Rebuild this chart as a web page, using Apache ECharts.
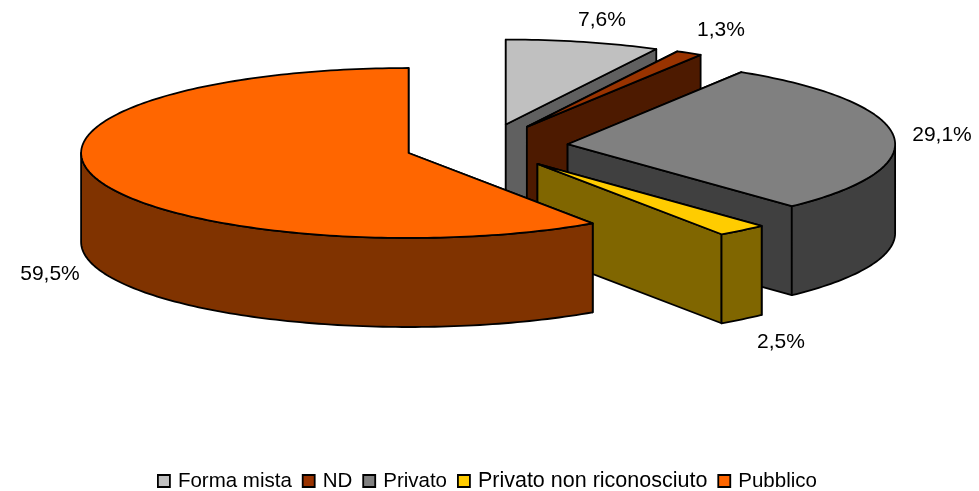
<!DOCTYPE html>
<html><head><meta charset="utf-8">
<style>html,body{margin:0;padding:0;background:#fff}#c{width:979px;height:491px}</style>
<script src="https://cdn.jsdelivr.net/npm/echarts@6/dist/echarts.min.js"></script>
</head><body><div id="c"></div>
<script>
const categories = ['Forma mista','ND','Privato','Privato non riconosciuto','Pubblico'];
const shares = [7.6,1.3,29.1,2.5,59.5];

const topColors = ['#C0C0C0','#993300','#808080','#FFCC00','#FF6600'];
const sideColors = ['#606060','#4D1A00','#404040','#806600','#803300'];
const labelAnchors = [[602,20],[721,30],[942,135],[781,342],[50,274]];
const pie = {cx:486.5, cy:146.4, rx:327.5, ry:85, depth:89, explodeX:81.5, explodeY:22.5};
const FONT = '"Liberation Sans", Arial, sans-serif';
const total = shares.reduce((a,b)=>a+b,0);
const startOf = shares.map((_,i)=>shares.slice(0,i).reduce((a,b)=>a+b,0));

function renderSlice(i, value){
  const t0 = startOf[i]/total*2*Math.PI;
  const t1 = t0 + value/total*2*Math.PI;
  const mid = (t0+t1)/2;
  const ax = pie.cx + pie.explodeX*Math.sin(mid);
  const ay = pie.cy - pie.explodeY*Math.cos(mid);
  const pt = t => [ax+pie.rx*Math.sin(t), ay-pie.ry*Math.cos(t)];
  const down = p => [p[0],p[1]+pie.depth];
  const arc = (a,b) => { const n=Math.max(2,Math.ceil((b-a)/0.02)), r=[]; for(let k=0;k<=n;k++) r.push(pt(a+(b-a)*k/n)); return r; };
  const apex=[ax,ay];
  const stroke={stroke:'#000',lineWidth:1.8,lineJoin:'round'};
  const poly=(points,fill)=>({type:'polygon',shape:{points},style:Object.assign({fill},stroke),silent:true});
  const children=[];
  // cut faces, the one reaching lower on screen last
  const cuts=[t0,t1].sort((a,b)=>pt(a)[1]-pt(b)[1]);
  cuts.forEach(t=>{ const p=pt(t); children.push(poly([apex,p,down(p),down(apex)],sideColors[i])); });
  // visible outer wall: front half of the ellipse only
  const a=Math.max(t0,Math.PI/2), b=Math.min(t1,1.5*Math.PI);
  if(b>a){ const top=arc(a,b); children.push(poly(top.concat(top.slice().reverse().map(down)),sideColors[i])); }
  // top face
  children.push(poly([apex].concat(arc(t0,t1)),topColors[i]));
  children.push({type:'text',silent:true,style:{
    text:value.toFixed(1).replace('.',',')+'%',x:labelAnchors[i][0],y:labelAnchors[i][1],
    align:'center',verticalAlign:'middle',font:'21px '+FONT,fill:'#000'}});
  return {type:'group',children};
}

const chart = echarts.init(document.getElementById('c'),null,{renderer:'canvas'});
chart.setOption({
  animation:false,
  backgroundColor:'#fff',
  legend:{
    data:categories.map(name=>name==='Privato non riconosciuto'?{name,textStyle:{fontSize:21.5}}:{name}),
    top:465, left:152,
    icon:'rect', itemWidth:12, itemHeight:12, itemGap:10,
    itemStyle:{borderColor:'#000',borderWidth:1.8},
    textStyle:{fontFamily:FONT,fontSize:20.5,color:'#000',padding:[0,0,0,3]},
    selectedMode:false
  },
  series:categories.map((name,i)=>({
    type:'custom', name, coordinateSystem:'none', z:2+i,
    itemStyle:{color:topColors[i]},
    data:[[shares[i]]],
    silent:true,
    renderItem:(params,api)=>renderSlice(i,api.value(0))
  }))
});
</script></body></html>
